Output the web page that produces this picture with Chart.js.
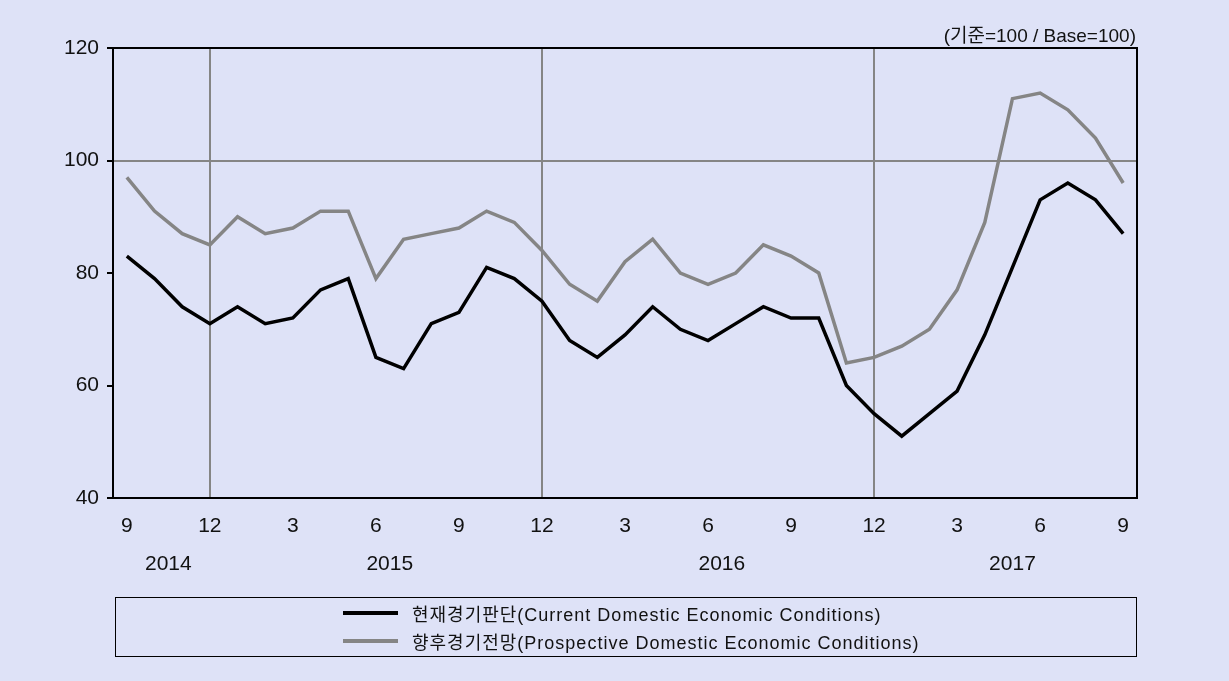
<!DOCTYPE html>
<html>
<head>
<meta charset="utf-8">
<script src="https://cdn.jsdelivr.net/npm/chart.js@4/dist/chart.umd.min.js"></script>
<style>
    body { margin: 0; background: #dee2f7; font-family: 'Liberation Sans', 'Noto Sans CJK KR', sans-serif; }
    #wrap { position: relative; width: 1229px; height: 681px; }
    #unit { position: absolute; right: 93px; top: 20px; font-size: 19px; color: #111; }
    #legend { position: absolute; left: 115px; top: 597px; width: 1020px; height: 58px; border: 1.5px solid #000; }
    .item { position: absolute; left: 227px; font-size: 18px; letter-spacing: 1px; color: #111; display: flex; align-items: center; white-space: nowrap; }
    .item span.swatch { display: inline-block; width: 55px; height: 4px; margin-right: 14px; }
</style>
</head>
<body>
<div id="wrap">
    <canvas id="lineChart" width="1229" height="681"></canvas>
    <div id="unit">(기준=100 / Base=100)</div>
    <div id="legend"></div>
</div>
<script>
// months from 2014.9 to 2017.9
const months = [9, 10, 11, 12, 1, 2, 3, 4, 5, 6, 7, 8, 9, 10, 11, 12, 1, 2, 3, 4, 5, 6, 7, 8, 9, 10, 11, 12, 1, 2, 3, 4, 5, 6, 7, 8, 9];
const currentConditions = [83, 79, 74, 71, 74, 71, 72, 77, 79, 65, 63, 71, 73, 81, 79, 75, 68, 65, 69, 74, 70, 68, 71, 74, 72, 72, 60, 55, 51, 55, 59, 69, 81, 93, 96, 93, 87];
const prospectiveConditions = [97, 91, 87, 85, 90, 87, 88, 91, 91, 79, 86, 87, 88, 91, 89, 84, 78, 75, 82, 86, 80, 78, 80, 85, 83, 80, 64, 65, 67, 70, 77, 89, 111, 112, 109, 104, 96];
const yearLabels = ['2014', '2015', '2016', '2017'];
const yearPositions = [1.5, 9.5, 21.5, 32]; // category index where each year label sits
const yTicks = [40, 60, 80, 100, 120];

const fontFamily = "'Liberation Sans', 'Noto Sans CJK KR', sans-serif";
const yearStart = [3, 15, 27]; // december lines

const datasets = [
    {
        label: '현재경기판단(Current Domestic Economic Conditions)',
        data: currentConditions,
        borderColor: '#000000',
        borderWidth: 3.5,
        pointRadius: 0,
        tension: 0
    },
    {
        label: '향후경기전망(Prospective Domestic Economic Conditions)',
        data: prospectiveConditions,
        borderColor: '#858585',
        borderWidth: 3.5,
        pointRadius: 0,
        tension: 0
    }
];

// frame around the plot + year row under the month labels
const framePlugin = {
    id: 'frame',
    afterDraw(chart) {
        const ctx = chart.ctx;
        const a = chart.chartArea;
        ctx.save();
        ctx.strokeStyle = '#000';
        ctx.lineWidth = 2;
        ctx.strokeRect(a.left, a.top, a.right - a.left, a.bottom - a.top);
        const x = chart.scales.x;
        ctx.fillStyle = '#111';
        ctx.font = '21px ' + fontFamily;
        ctx.textAlign = 'center';
        ctx.textBaseline = 'middle';
        yearLabels.forEach((yr, i) => {
            const p = yearPositions[i];
            const lo = Math.floor(p), hi = Math.ceil(p);
            const px = x.getPixelForValue(lo) + (x.getPixelForValue(hi) - x.getPixelForValue(lo)) * (p - lo);
            ctx.fillText(yr, px, 564);
        });
        ctx.restore();
    }
};

document.addEventListener('DOMContentLoaded', () => {
    const ctx = document.getElementById('lineChart').getContext('2d');
    const chart = new Chart(ctx, {
        type: 'line',
        data: { labels: months, datasets: datasets },
        options: {
            responsive: false,
            animation: false,
            layout: { padding: { left: 0, right: 92, top: 48, bottom: 0 } },
            scales: {
                x: {
                    offset: true,
                    afterFit: s => { s.height = 183; },
                    border: { display: false },
                    grid: {
                        drawTicks: false,
                        lineWidth: 2,
                        color: c => yearStart.includes(c.index) ? '#858585' : 'rgba(0,0,0,0)'
                    },
                    ticks: {
                        autoSkip: false,
                        maxRotation: 0,
                        padding: 16,
                        color: '#111',
                        font: { size: 21, family: fontFamily },
                        callback: (v, i) => months[i] % 3 === 0 ? String(months[i]) : ''
                    }
                },
                y: {
                    min: 40,
                    max: 120,
                    afterFit: s => { s.width = 113; },
                    afterBuildTicks: s => { s.ticks = yTicks.map(v => ({ value: v })); },
                    border: { display: false },
                    grid: {
                        drawTicks: true,
                        tickLength: 6,
                        lineWidth: 2,
                        tickColor: '#000',
                        color: c => c.tick && c.tick.value === 100 ? '#858585' : 'rgba(0,0,0,0)'
                    },
                    ticks: {
                        padding: 8,
                        color: '#111',
                        font: { size: 21, family: fontFamily }
                    }
                }
            },
            plugins: {
                legend: { display: false },
                tooltip: { enabled: false }
            }
        },
        plugins: [framePlugin]
    });

    // legend box below the chart
    const legend = document.getElementById('legend');
    chart.data.datasets.forEach((ds, i) => {
        const item = document.createElement('div');
        item.className = 'item';
        item.style.top = (i === 0 ? 2 : 30) + 'px';
        item.innerHTML = '<span class="swatch" style="background:' + ds.borderColor + '"></span>' + ds.label;
        legend.appendChild(item);
    });
});
</script>
</body>
</html>
